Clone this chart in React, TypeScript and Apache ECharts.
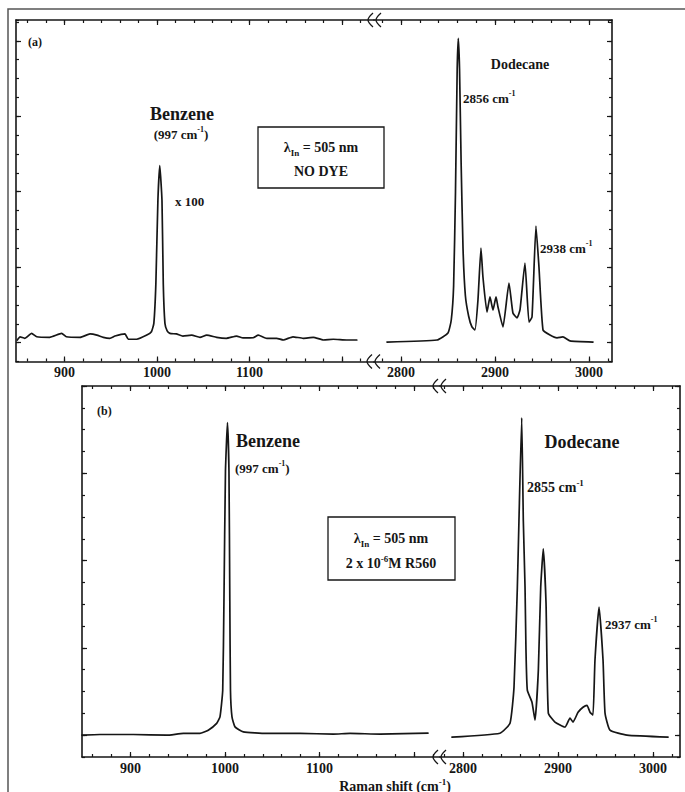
import React, { useEffect, useRef } from "react";
import * as echarts from "echarts";

// ---------------- data ----------------
// Panel (a): no dye. Benzene ring band (x100) and the dodecane C-H stretch region.
const benzeneNoDyeShift = [849, 852, 857, 864.5, 870, 884, 897, 902, 917, 927.6, 935, 942, 949, 954.6, 965.4, 969, 978, 989, 994, 996.6, 998.8, 1001, 1003, 1005.4, 1006.8, 1008.6, 1011, 1014, 1021, 1028, 1037.5, 1046.5, 1053.7, 1064.5, 1075, 1086, 1093, 1104, 1109.5, 1118.6, 1129.4, 1136.5, 1147, 1158, 1169, 1180, 1190.6, 1205, 1216];
const benzeneNoDyeIntensity = [1.14, 1.31, 1.23, 1.49, 1.31, 1.28, 1.49, 1.31, 1.28, 1.46, 1.4, 1.28, 1.23, 1.35, 1.46, 1.18, 1.18, 1.4, 1.58, 2.02, 4.14, 8.55, 10.38, 8.55, 4.14, 2.02, 1.62, 1.49, 1.46, 1.35, 1.4, 1.28, 1.4, 1.28, 1.23, 1.35, 1.25, 1.26, 1.4, 1.23, 1.23, 1.14, 1.31, 1.23, 1.28, 1.14, 1.18, 1.14, 1.14];

const dodecaneNoDyeShift = [2785.1, 2838.3, 2850, 2853.5, 2856, 2858, 2859.8, 2861, 2862.3, 2864, 2866, 2868.5, 2872, 2875.5, 2878.7, 2881.9, 2885.1, 2887.2, 2891.5, 2894.7, 2897.9, 2901.1, 2903.2, 2908.5, 2914.9, 2919.1, 2923.4, 2926.6, 2931.9, 2936.2, 2939.4, 2943.6, 2946.8, 2951.1, 2958.5, 2966, 2972.3, 2979.8, 3004.3];
const dodecaneNoDyeIntensity = [1.03, 1.14, 1.51, 2.2, 4.0, 9.0, 15.5, 17.13, 15.5, 10.5, 6.0, 3.5, 2.4, 1.83, 1.67, 3.26, 6.01, 4.48, 2.62, 3.42, 2.73, 3.42, 2.89, 1.83, 4.16, 2.57, 2.31, 2.73, 5.22, 2.09, 2.36, 7.18, 5.01, 1.67, 1.4, 1.25, 1.3, 1.09, 1.03];

// Panel (b): 2 x 10^-6 M R560.
const benzeneDyeShift = [848.7, 867.7, 903, 938.3, 956, 973.5, 982.3, 991.2, 994.7, 997.6, 998.9, 1000.5, 1002.6, 1004.2, 1005.1, 1005.8, 1007.4, 1010.6, 1019.4, 1044, 1079.4, 1114.6, 1132.3, 1164, 1214.8];
const benzeneDyeIntensity = [1.0, 1.03, 1.03, 1.0, 1.08, 1.08, 1.23, 1.54, 1.84, 3.06, 7.17, 13.1, 15.32, 13.1, 7.17, 3.06, 1.84, 1.38, 1.15, 1.08, 1.08, 1.05, 1.08, 1.05, 1.09];

const dodecaneDyeShift = [2788.4, 2838.9, 2849.5, 2853.7, 2857.2, 2858.9, 2861.8, 2863.5, 2865.3, 2866.3, 2867.7, 2872.6, 2875.8, 2879.3, 2881.8, 2884.5, 2887.4, 2889.8, 2896.8, 2907.4, 2912.6, 2915.8, 2921.1, 2926.3, 2930.5, 2933.7, 2936.8, 2938.9, 2943.2, 2947.4, 2949.5, 2954.7, 2972.6, 3015.8];
const dodecaneDyeIntensity = [0.91, 1.09, 1.55, 3.2, 7.77, 10.83, 15.54, 10.83, 7.77, 4.9, 3.06, 2.51, 1.69, 3.97, 7.78, 9.54, 7.04, 2.01, 1.6, 1.37, 1.78, 1.6, 2.05, 2.28, 2.37, 2.05, 1.92, 4.43, 6.87, 4.43, 2.01, 1.23, 1.0, 0.91];

// Axis ticks / labels
const lowShiftLabels = [900, 1000, 1100];
const highShiftLabels = [2800, 2900, 3000];
const lowShiftMajorTicks = [900, 1000, 1100, 1200];
const highShiftMajorTicks = [2800, 2900, 3000];
const lowShiftMinorTicks = [860, 880, 900, 920, 940, 960, 980, 1000, 1020, 1040, 1060, 1080, 1100, 1120, 1140, 1160, 1180, 1200, 1220];
const highShiftMinorTicks = [2780, 2800, 2820, 2840, 2860, 2880, 2900, 2920, 2940, 2960, 2980, 3000, 3020];
const intensityMajorTicks = [1, 5, 9, 13, 17];

// ---------------- layout ----------------
const serif = "'Liberation Serif', 'Times New Roman', 'DejaVu Serif', serif";
const ink = "#161616";

const grids = [
  { left: 16, top: 20, width: 358, height: 341.5 },
  { left: 374, top: 20, width: 238, height: 341.5 },
  { left: 82, top: 386, width: 358, height: 371 },
  { left: 440, top: 386, width: 240, height: 371 },
];
const xRanges = [
  [847.6, 1234.6],
  [2771.3, 3024.5],
  [848.7, 1227.5],
  [2775.8, 3028.4],
];
const yMaxes = [18.1, 18.1, 17, 17];

const lineStyle = { color: ink, width: 1.6 };
const tickStyle = { color: ink, width: 1.2 };

function xAxesFor(g: number, labels: number[], majors: number[], minors: number[]) {
  const base = {
    type: "value",
    gridIndex: g,
    min: xRanges[g][0],
    max: xRanges[g][1],
    splitLine: { show: false },
  };
  return [
    {
      ...base,
      position: "bottom",
      axisLine: { show: true, onZero: false, lineStyle },
      axisTick: { show: true, inside: true, length: 5, customValues: majors, lineStyle: tickStyle },
      axisLabel: {
        show: true,
        customValues: labels,
        formatter: (v: number) => String(Math.round(v)),
        margin: 4,
        color: ink,
        fontFamily: serif,
        fontWeight: "bold",
        fontSize: 14,
      },
    },
    {
      ...base,
      position: "bottom",
      axisLine: { show: false, onZero: false },
      axisTick: { show: true, inside: true, length: 3, customValues: minors, lineStyle: tickStyle },
      axisLabel: { show: false },
    },
    {
      ...base,
      position: "top",
      axisLine: { show: true, onZero: false, lineStyle },
      axisTick: { show: true, inside: true, length: 5, customValues: majors, lineStyle: tickStyle },
      axisLabel: { show: false },
    },
    {
      ...base,
      position: "top",
      axisLine: { show: false, onZero: false },
      axisTick: { show: true, inside: true, length: 3, customValues: minors, lineStyle: tickStyle },
      axisLabel: { show: false },
    },
  ];
}

function yAxesFor(g: number, pos: string) {
  const base = {
    type: "value",
    gridIndex: g,
    min: 0,
    max: yMaxes[g],
    position: pos,
    splitLine: { show: false },
    axisLabel: { show: false },
  };
  return [
    {
      ...base,
      axisLine: { show: true, onZero: false, lineStyle },
      axisTick: { show: true, inside: true, length: 5, customValues: intensityMajorTicks, lineStyle: tickStyle },
    },
    {
      ...base,
      interval: 1,
      axisLine: { show: false, onZero: false },
      axisTick: { show: true, inside: true, length: 3, lineStyle: tickStyle },
    },
  ];
}

function zip(xs: number[], ys: number[]) {
  return xs.map((x, i) => [x, ys[i]]);
}

function trace(g: number, xs: number[], ys: number[]) {
  return {
    type: "line",
    xAxisIndex: g * 4,
    yAxisIndex: g * 2,
    data: zip(xs, ys),
    showSymbol: false,
    symbol: "none",
    smooth: 0.15,
    silent: true,
    lineStyle: { color: ink, width: 1.7, join: "round", cap: "round" },
  };
}

// rich-text helpers
function supRich(size: number) {
  return {
    m: { fontSize: size, fontFamily: serif, fontWeight: "bold", fill: ink, lineHeight: size + 2, verticalAlign: "bottom" },
    s: { fontSize: Math.round(size * 0.65), fontFamily: serif, fontWeight: "bold", fill: ink, lineHeight: size + 2, verticalAlign: "top" },
  };
}
function subRich(size: number) {
  return {
    m: { fontSize: size, fontFamily: serif, fontWeight: "bold", fill: ink, lineHeight: size + 3, verticalAlign: "top" },
    b: { fontSize: Math.round(size * 0.62), fontFamily: serif, fontWeight: "bold", fill: ink, lineHeight: size + 3, verticalAlign: "bottom" },
  };
}
function plain(x: number, y: number, text: string, size: number, align = "center") {
  return {
    type: "text",
    x,
    y,
    silent: true,
    style: { text, fontSize: size, fontFamily: serif, fontWeight: "bold", fill: ink, align, verticalAlign: "middle" },
  };
}
function sup(x: number, y: number, main: string, s: string, size: number, align = "left", tail = "") {
  return {
    type: "text",
    x,
    y,
    silent: true,
    style: {
      text: `{m|${main}}{s|${s}}` + (tail ? `{m|${tail}}` : ""),
      rich: supRich(size),
      align,
      verticalAlign: "middle",
    },
  };
}
function lambda(x: number, y: number, size: number) {
  return {
    type: "text",
    x,
    y,
    silent: true,
    style: {
      text: "{m|λ}{b|In}{m| = 505 nm}",
      rich: subRich(size),
      align: "center",
      verticalAlign: "middle",
    },
  };
}
function chevrons(cx: number, cy: number) {
  return [cx - 7, cx + 1].map((x) => ({
    type: "polyline",
    silent: true,
    shape: { points: [[x + 5, cy - 7], [x, cy], [x + 5, cy + 7]], smooth: 0.35 },
    style: { stroke: ink, lineWidth: 1.3, fill: "none" },
  }));
}

const graphics = [
  // outer figure frame (partly cropped)
  { type: "rect", silent: true, shape: { x: 8, y: 9, width: 720, height: 820 }, style: { fill: "none", stroke: "#555", lineWidth: 1.5 } },
  // panel (a)
  plain(28, 42, "(a)", 12, "left"),
  plain(182, 114, "Benzene", 18),
  sup(181, 133, "(997 cm", "-1", 13, "center", ")"),
  plain(175, 201, "x 100", 13, "left"),
  { type: "rect", silent: true, shape: { x: 258, y: 127, width: 126, height: 61 }, style: { fill: "none", stroke: ink, lineWidth: 1.3 } },
  lambda(321, 149, 14),
  plain(321, 171, "NO DYE", 14),
  plain(520, 64, "Dodecane", 14),
  sup(463, 97, "2856 cm", "-1", 13),
  sup(540, 247, "2938 cm", "-1", 13),
  ...chevrons(375, 20),
  ...chevrons(374, 361.5),
  // panel (b)
  plain(97, 411, "(b)", 12, "left"),
  plain(236, 441, "Benzene", 18, "left"),
  sup(235, 467, "(997 cm", "-1", 13, "left", ")"),
  plain(582, 442, "Dodecane", 18),
  sup(527, 486, "2855 cm", "-1", 14),
  { type: "rect", silent: true, shape: { x: 328, y: 517, width: 127, height: 63 }, style: { fill: "none", stroke: ink, lineWidth: 1.3 } },
  lambda(391, 540, 14),
  sup(391, 562, "2 x 10", "-6", 14, "center", "M R560"),
  sup(605, 623, "2937 cm", "-1", 13),
  ...chevrons(440, 386),
  ...chevrons(440, 757),
  // shared axis title
  sup(395, 785, "Raman shift (cm", "-1", 14, "center", ")"),
];

const option = {
  animation: false,
  backgroundColor: "#ffffff",
  grid: grids.map((g) => ({ ...g, containLabel: false })),
  xAxis: [
    ...xAxesFor(0, lowShiftLabels, lowShiftMajorTicks, lowShiftMinorTicks),
    ...xAxesFor(1, highShiftLabels, highShiftMajorTicks, highShiftMinorTicks),
    ...xAxesFor(2, lowShiftLabels, lowShiftMajorTicks, lowShiftMinorTicks),
    ...xAxesFor(3, highShiftLabels, highShiftMajorTicks, highShiftMinorTicks),
  ],
  yAxis: [...yAxesFor(0, "left"), ...yAxesFor(1, "right"), ...yAxesFor(2, "left"), ...yAxesFor(3, "right")],
  series: [
    trace(0, benzeneNoDyeShift, benzeneNoDyeIntensity),
    trace(1, dodecaneNoDyeShift, dodecaneNoDyeIntensity),
    trace(2, benzeneDyeShift, benzeneDyeIntensity),
    trace(3, dodecaneDyeShift, dodecaneDyeIntensity),
  ],
  graphic: { elements: graphics },
};

export default function App() {
  const ref = useRef<HTMLDivElement>(null);
  useEffect(() => {
    if (!ref.current) return;
    const chart = echarts.init(ref.current, null, { renderer: "svg", width: 685, height: 792 });
    chart.setOption(option as any);
    return () => chart.dispose();
  }, []);
  return (
    <div
      ref={ref}
      style={{ position: "fixed", left: 0, top: 0, width: 685, height: 792, background: "#fff" }}
    />
  );
}
